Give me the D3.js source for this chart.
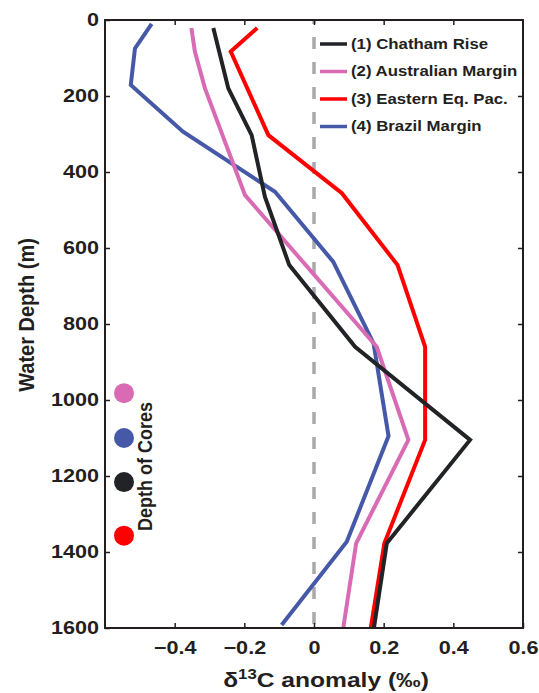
<!DOCTYPE html>
<html>
<head>
<meta charset="utf-8">
<script src="https://cdn.jsdelivr.net/npm/d3@7"></script>
<style>
  body { margin: 0; background: #fff; }
  svg text { font-family: "Liberation Sans", Arial, sans-serif; font-weight: bold; fill: #231f20; }
</style>
</head>
<body>
<div id="chart"></div>
<script>
// series: [depth (m), d13C anomaly]
var chatham = [[21, -0.289], [180, -0.246], [303, -0.179], [465, -0.141], [645, -0.071], [860, 0.118], [1105, 0.448], [1377, 0.209], [1600, 0.172]];
var australian = [[21, -0.352], [83, -0.342], [180, -0.313], [461, -0.198], [860, 0.18], [1105, 0.271], [1377, 0.121], [1600, 0.084]];
var eastEqPac = [[21, -0.163], [83, -0.239], [303, -0.131], [456, 0.08], [645, 0.24], [860, 0.319], [1105, 0.319], [1377, 0.202], [1600, 0.163]];
var brazil = [[10, -0.466], [75, -0.514], [171, -0.526], [294, -0.376], [452, -0.112], [636, 0.055], [851, 0.171], [1095, 0.214], [1373, 0.094], [1592, -0.093]];

var seriesNames = ['(1) Chatham Rise', '(2) Australian Margin', '(3) Eastern Eq. Pac.', '(4) Brazil Margin'];
var seriesColors = ['#222326', '#d96bb4', '#ff0000', '#4659a9'];
var seriesData = [chatham, australian, eastEqPac, brazil];
var drawOrder = [2, 3, 1, 0];

// core depths shown as dots, in order pink, blue, black, red
var coreDepths = [982, 1100, 1216, 1357];
var coreColors = ['#d96bb4', '#4659a9', '#222326', '#ff0000'];

var xTicks = [-0.4, -0.2, 0, 0.2, 0.4, 0.6];
var yTicks = [0, 200, 400, 600, 800, 1000, 1200, 1400, 1600];

var width = 539, height = 693;
var margin = { top: 20, right: 16, bottom: 65, left: 105 };
var w = width - margin.left - margin.right;
var h = height - margin.top - margin.bottom;
var sx = 1.2; // text in the original is drawn wider than it is tall

var svg = d3.select('#chart')
    .append('svg')
    .attr('width', width)
    .attr('height', height);
var g = svg.append('g')
    .attr('transform', 'translate(' + margin.left + ',' + margin.top + ')');

var x = d3.scaleLinear().domain([-0.6, 0.6]).range([0, w]);
var y = d3.scaleLinear().domain([0, 1600]).range([0, h]);

var fmt = function (d) { return d === 0 ? '0' : d3.format('.1f')(d); };

// zero line
g.append('line')
    .attr('x1', x(0)).attr('x2', x(0))
    .attr('y1', 0).attr('y2', h)
    .attr('stroke', '#a9a9ab')
    .attr('stroke-width', 3.5)
    .attr('stroke-dasharray', '12,13')
    .attr('stroke-dashoffset', 8);

var line = d3.line()
    .x(function (d) { return x(d[1]); })
    .y(function (d) { return y(d[0]); });

drawOrder.forEach(function (i) {
    g.append('path')
        .datum(seriesData[i])
        .attr('d', line)
        .attr('fill', 'none')
        .attr('stroke', seriesColors[i])
        .attr('stroke-width', 4)
        .attr('stroke-linejoin', 'miter');
});

// axes
function styleAxis(sel) {
    sel.select('.domain').remove();
    sel.selectAll('line').attr('stroke', '#231f20').attr('stroke-width', 1.5);
    sel.selectAll('text')
        .style('font-size', '18px')
        .attr('x', function () { return (+d3.select(this).attr('x') || 0) / sx; })
        .attr('transform', 'scale(' + sx + ',1)');
}

g.append('g')
    .call(d3.axisLeft(y).tickValues(yTicks).tickFormat(d3.format('d')).tickSizeInner(-5).tickSizeOuter(0).tickPadding(6))
    .call(styleAxis);
g.append('g')
    .attr('transform', 'translate(' + w + ',0)')
    .call(d3.axisRight(y).tickValues(yTicks.slice(1, -1)).tickSizeInner(-5).tickSizeOuter(0).tickFormat(''))
    .call(styleAxis);
g.append('g')
    .attr('transform', 'translate(0,' + h + ')')
    .call(d3.axisBottom(x).tickValues(xTicks).tickFormat(fmt).tickSizeInner(-5).tickSizeOuter(0).tickPadding(13))
    .call(styleAxis);
g.append('g')
    .call(d3.axisTop(x).tickValues(xTicks.slice(0, -1)).tickSizeInner(-5).tickSizeOuter(0).tickFormat(''))
    .call(styleAxis);

g.append('rect')
    .attr('width', w).attr('height', h)
    .attr('fill', 'none')
    .attr('stroke', '#231f20')
    .attr('stroke-width', 2);

// axis titles
var xt = svg.append('text')
    .attr('transform', 'translate(326,687) scale(' + sx + ',1)')
    .attr('text-anchor', 'middle')
    .style('font-size', '20.5px');
xt.append('tspan').text('δ');
xt.append('tspan').attr('dy', -8).style('font-size', '14px').text('13');
xt.append('tspan').attr('dy', 8).text('C anomaly (‰)');

svg.append('text')
    .attr('transform', 'translate(34,315) scale(1.1,1) rotate(-90)')
    .attr('text-anchor', 'middle')
    .style('font-size', '20px')
    .text('Water Depth (m)');

// legend
var legend = g.append('g').attr('transform', 'translate(215,24)');
seriesNames.forEach(function (name, i) {
    var row = legend.append('g').attr('transform', 'translate(0,' + (i * 27.5) + ')');
    row.append('line')
        .attr('x1', 0).attr('x2', 27)
        .attr('stroke', seriesColors[i])
        .attr('stroke-width', 3.5);
    row.append('text')
        .attr('transform', 'translate(31,0) scale(' + sx + ',1)')
        .attr('dy', '0.35em')
        .style('font-size', '14px')
        .text(name);
});

// depth of cores dots
g.selectAll('circle.core')
    .data(coreDepths)
    .enter()
    .append('circle')
    .attr('class', 'core')
    .attr('cx', 19)
    .attr('cy', function (d) { return y(d); })
    .attr('r', 10)
    .attr('fill', function (d, i) { return coreColors[i]; });

g.append('text')
    .attr('transform', 'translate(47,' + y(1175) + ') scale(1.1,1) rotate(-90)')
    .attr('text-anchor', 'middle')
    .style('font-size', '18px')
    .text('Depth of Cores');
</script>
</body>
</html>
